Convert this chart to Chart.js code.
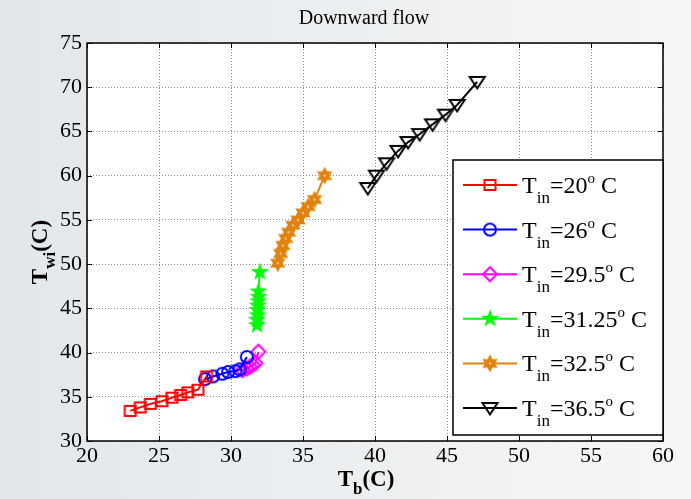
<!DOCTYPE html>
<html>
<head>
<meta charset="utf-8">
<script src="https://cdn.jsdelivr.net/npm/chart.js@4.4.0/dist/chart.umd.min.js"></script>
<style>
  html, body { margin: 0; padding: 0; }
  body { width: 691px; height: 499px; overflow: hidden; }
</style>
</head>
<body>
<canvas id="grafico" width="691" height="499"></canvas>
<script>
// Temperaturas de entrada (legenda)
var tinLabels = ['20', '26', '29.5', '31.25', '32.5', '36.5'];

// Tb (x) e Twi (y) para cada temperatura de entrada
var tb20 = [23.0, 23.7, 24.4, 25.2, 25.9, 26.5, 27.0, 27.7, 28.3];
var twi20 = [33.4, 33.8, 34.2, 34.5, 34.9, 35.2, 35.5, 35.8, 37.3];

var tb26 = [28.2, 28.75, 29.4, 29.8, 30.3, 30.6, 31.1];
var twi26 = [37.0, 37.3, 37.6, 37.8, 37.9, 38.1, 39.5];

var tb295 = [30.8, 31.1, 31.3, 31.5, 31.7, 31.9];
var twi295 = [38.0, 38.2, 38.4, 38.6, 38.8, 40.1];

var tb3125 = [31.8, 31.8, 31.85, 31.85, 31.85, 31.9, 31.9, 31.9, 32.0];
var twi3125 = [43.1, 43.7, 44.2, 44.8, 45.3, 45.8, 46.3, 46.9, 49.1];

var tb325 = [33.25, 33.45, 33.6, 33.8, 34.0, 34.3, 34.65, 35.0, 35.35, 35.8, 36.5];
var twi325 = [50.1, 51.2, 52.1, 52.9, 53.6, 54.4, 55.0, 55.8, 56.5, 57.3, 60.0];

var tb365 = [39.5, 40.1, 40.8, 41.6, 42.3, 43.1, 44.0, 44.9, 45.7, 47.1];
var twi365 = [58.6, 60.0, 61.4, 62.8, 63.8, 64.7, 65.8, 66.9, 68.0, 70.6];

var xTicks = [20, 25, 30, 35, 40, 45, 50, 55, 60];
var yTicks = [30, 35, 40, 45, 50, 55, 60, 65, 70, 75];

var cores = ['#ff0000', '#0000ff', '#ff00ff', '#00ff00', '#e0820e', '#000000'];

function pontos(xs, ys) {
    return xs.map(function(x, i) { return { x: x, y: ys[i] }; });
}

function estrela(g, n, rOut, rIn) {
    g.beginPath();
    for (var i = 0; i < n * 2; i++) {
        var r = i % 2 === 0 ? rOut : rIn;
        var a = -Math.PI / 2 + i * Math.PI / n;
        var px = r * Math.cos(a), py = r * Math.sin(a);
        if (i === 0) g.moveTo(px, py); else g.lineTo(px, py);
    }
    g.closePath();
}

// Marcadores desenhados em canvas pequenos (estilo MATLAB)
function criaMarcador(tipo, cor) {
    var s = 24;
    var c = document.createElement('canvas');
    c.width = s; c.height = s;
    var g = c.getContext('2d');
    g.translate(s / 2, s / 2);
    g.strokeStyle = cor;
    g.fillStyle = cor;
    g.lineWidth = 2;
    if (tipo === 'quadrado') {
        g.strokeRect(-5.5, -5, 11, 10);
    } else if (tipo === 'circulo') {
        g.beginPath(); g.arc(0, 0, 6, 0, Math.PI * 2); g.stroke();
    } else if (tipo === 'losango') {
        g.beginPath();
        g.moveTo(0, -7); g.lineTo(7, 0); g.lineTo(0, 7); g.lineTo(-7, 0);
        g.closePath(); g.stroke();
    } else if (tipo === 'pentagrama') {
        estrela(g, 5, 9.5, 3.8); g.fill();
    } else if (tipo === 'hexagrama') {
        estrela(g, 6, 9, 4.9); g.fill();
        g.fillStyle = '#f4c890';
        g.beginPath(); g.arc(0, 0, 1.2, 0, Math.PI * 2); g.fill();
    } else if (tipo === 'triangulo') {
        g.beginPath();
        g.moveTo(-7.5, -5); g.lineTo(7.5, -5); g.lineTo(0, 6.5);
        g.closePath(); g.stroke();
    }
    return c;
}

var tipos = ['quadrado', 'circulo', 'losango', 'pentagrama', 'hexagrama', 'triangulo'];
var marcadores = tipos.map(function(t, i) { return criaMarcador(t, cores[i]); });

var series = [
    pontos(tb20, twi20), pontos(tb26, twi26), pontos(tb295, twi295),
    pontos(tb3125, twi3125), pontos(tb325, twi325), pontos(tb365, twi365)
];

var datasets = series.map(function(d, i) {
    return {
        label: 'Tin=' + tinLabels[i],
        data: d,
        showLine: true,
        borderColor: cores[i],
        backgroundColor: cores[i],
        borderWidth: 2,
        pointStyle: marcadores[i],
        pointRadius: 6,
        tension: 0,
        fill: false
    };
});

// Desenha texto com partes em subscrito/sobrescrito
function textoComposto(ctx, partes, x, y, peso) {
    var cx = x;
    partes.forEach(function(p) {
        ctx.font = peso + ' ' + p.t + 'px "Liberation Serif", "Times New Roman", serif';
        ctx.fillText(p.s, cx, y + (p.dy || 0));
        cx += ctx.measureText(p.s).width;
    });
    return cx - x;
}

function larguraComposta(ctx, partes, peso) {
    var w = 0;
    partes.forEach(function(p) {
        ctx.font = peso + ' ' + p.t + 'px "Liberation Serif", "Times New Roman", serif';
        w += ctx.measureText(p.s).width;
    });
    return w;
}

var molduraPlugin = {
    id: 'moldura',
    beforeDraw: function(chart) {
        var ctx = chart.ctx, a = chart.chartArea;
        ctx.save();
        var grad = ctx.createLinearGradient(0, 0, chart.width, 0);
        grad.addColorStop(0, '#e3e7ea');
        grad.addColorStop(1, '#f5f6f7');
        ctx.fillStyle = grad;
        ctx.fillRect(0, 0, chart.width, chart.height);
        ctx.fillStyle = '#ffffff';
        ctx.fillRect(a.left, a.top, a.right - a.left, a.bottom - a.top);
        ctx.restore();
    },
    afterDraw: function(chart) {
        var ctx = chart.ctx, a = chart.chartArea;
        var sx = chart.scales.x, sy = chart.scales.y;
        ctx.save();

        // caixa e marcas para dentro
        ctx.strokeStyle = '#000';
        ctx.lineWidth = 1.5;
        ctx.strokeRect(a.left, a.top, a.right - a.left, a.bottom - a.top);
        ctx.lineWidth = 1;
        ctx.beginPath();
        xTicks.forEach(function(v) {
            var px = Math.round(sx.getPixelForValue(v)) + 0.5;
            ctx.moveTo(px, a.bottom); ctx.lineTo(px, a.bottom - 5);
            ctx.moveTo(px, a.top); ctx.lineTo(px, a.top + 5);
        });
        yTicks.forEach(function(v) {
            var py = Math.round(sy.getPixelForValue(v)) + 0.5;
            ctx.moveTo(a.left, py); ctx.lineTo(a.left + 5, py);
            ctx.moveTo(a.right, py); ctx.lineTo(a.right - 5, py);
        });
        ctx.stroke();

        ctx.fillStyle = '#000';
        ctx.textBaseline = 'alphabetic';

        // título
        ctx.font = '20px "Liberation Serif", "Times New Roman", serif';
        ctx.textAlign = 'center';
        ctx.fillText('Downward flow', 364, 24);
        ctx.textAlign = 'left';

        // rótulo eixo x
        var px = [{ s: 'T', t: 23 }, { s: 'b', t: 17, dy: 8 }, { s: '(C)', t: 23 }];
        var wx = larguraComposta(ctx, px, 'bold');
        textoComposto(ctx, px, 366 - wx / 2, 486, 'bold');

        // rótulo eixo y
        var py = [{ s: 'T', t: 23 }, { s: 'wi', t: 17, dy: 8 }, { s: '(C)', t: 23 }];
        var wy = larguraComposta(ctx, py, 'bold');
        ctx.save();
        ctx.translate(47, 252);
        ctx.rotate(-Math.PI / 2);
        textoComposto(ctx, py, -wy / 2, 0, 'bold');
        ctx.restore();

        // legenda
        var lx = 453, ly = 160, lw = 210, lh = 275;
        ctx.fillStyle = '#fff';
        ctx.fillRect(lx, ly, lw, lh);
        ctx.strokeStyle = '#000';
        ctx.lineWidth = 1.5;
        ctx.strokeRect(lx, ly, lw, lh);
        var passo = 44.6;
        tinLabels.forEach(function(t, i) {
            var cy = ly + 25 + i * passo;
            ctx.strokeStyle = cores[i];
            ctx.lineWidth = 2;
            ctx.beginPath();
            ctx.moveTo(lx + 10, cy); ctx.lineTo(lx + 64, cy);
            ctx.stroke();
            var m = marcadores[i];
            ctx.drawImage(m, lx + 37 - m.width / 2, cy - m.height / 2);
            ctx.fillStyle = '#000';
            textoComposto(ctx, [
                { s: 'T', t: 24 },
                { s: 'in', t: 17, dy: 10 },
                { s: '=' + t, t: 24 },
                { s: 'o', t: 15, dy: -10 },
                { s: ' C', t: 24 }
            ], lx + 69, cy + 8, 'normal');
        });

        ctx.restore();
    }
};

var fonteTicks = { family: '"Liberation Serif", "Times New Roman", serif', size: 22 };

new Chart(document.getElementById('grafico'), {
    type: 'scatter',
    data: { datasets: datasets },
    options: {
        responsive: false,
        animation: false,
        layout: { padding: { top: 43, right: 28, left: 0, bottom: 0 } },
        plugins: {
            legend: { display: false },
            tooltip: { enabled: false },
            title: { display: false }
        },
        scales: {
            x: {
                type: 'linear', min: 20, max: 60,
                afterFit: function(s) { s.height = 58; },
                ticks: { stepSize: 5, color: '#000', font: fonteTicks, padding: 2, maxRotation: 0 },
                grid: { color: '#8a8a8a', drawTicks: false, lineWidth: 1 },
                border: { display: false, dash: [1, 2] }
            },
            y: {
                type: 'linear', min: 30, max: 75,
                afterFit: function(s) { s.width = 87; },
                ticks: { stepSize: 5, color: '#000', font: fonteTicks, padding: 5 },
                grid: { color: '#8a8a8a', drawTicks: false, lineWidth: 1 },
                border: { display: false, dash: [1, 2] }
            }
        }
    },
    plugins: [molduraPlugin]
});
</script>
</body>
</html>
